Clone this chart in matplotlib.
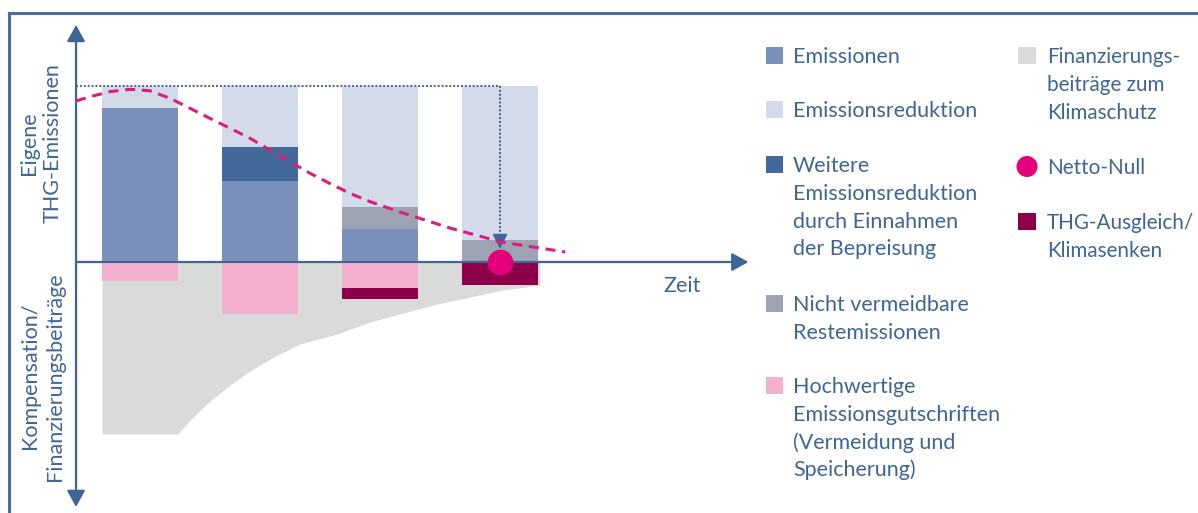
import matplotlib
matplotlib.use("Agg")
import matplotlib.pyplot as plt
from matplotlib.patches import Rectangle, Ellipse
from matplotlib.lines import Line2D

# ---------------- data ----------------
periods = [1, 2, 3, 4]
emissions = [87.5, 46, 19, 0]
further_reduction = [0, 19.5, 0, 0]
residual = [0, 0, 12, 12.5]
reduction = [12.5, 34.5, 69, 87.5]
credits = [-11, -29.5, -15, 0]
offsets = [0, 0, -6, -13]
netto_null_x = 4
netto_null_y = 0
reference_level = 100

# dashed trajectory
curve_x = [0.467, 0.583, 0.75, 0.917, 1.083, 1.25, 1.417, 1.583, 1.75, 1.917,
           2.083, 2.25, 2.417, 2.583, 2.75, 2.917, 3.167, 3.583, 4.008, 4.542]
curve_y = [91.5, 93.9, 96.8, 98.1, 97.3, 93.0, 87.3, 81.6, 76.0, 70.3,
           63.6, 57.0, 50.4, 44.6, 39.0, 34.3, 28.4, 19.3, 11.4, 5.7]

# financing contributions area (lower boundary)
fin_x = [0.683, 1.317, 1.417, 1.583, 1.75, 1.917, 2.083, 2.333, 2.642, 2.917,
         3.192, 3.475, 3.75, 4.025, 4.333]
fin_y = [-97.7, -97.7, -89.8, -79.0, -69.9, -61.9, -55.1, -46.6, -40.9, -34.1,
         -29.0, -23.9, -19.9, -15.9, -13.1]

legend_left = [
    ("Emissionen", ["Emissionen"]),
    ("Emissionsreduktion", ["Emissionsreduktion"]),
    ("Weitere", ["Weitere", "Emissionsreduktion", "durch Einnahmen", "der Bepreisung"]),
    ("Nicht", ["Nicht vermeidbare", "Restemissionen"]),
    ("Hoch", ["Hochwertige", "Emissionsgutschriften", "(Vermeidung und", "Speicherung)"]),
]
legend_right = [
    ("Fin", ["Finanzierungs-", "beiträge zum", "Klimaschutz"]),
    ("Netto", ["Netto-Null"]),
    ("THG", ["THG-Ausgleich/", "Klimasenken"]),
]
y_label_top = ["Eigene", "THG-Emissionen"]
y_label_bottom = ["Kompensation/", "Finanzierungsbeiträge"]
x_label = "Zeit"

# ---------------- style ----------------
C_EMI = "#7a8fb9"
C_RED = "#d3dae9"
C_FUR = "#43699b"
C_RES = "#9da3b2"
C_CRE = "#f3b0cf"
C_OFF = "#8b0049"
C_FIN = "#d9dada"
C_DOT = "#e4007d"
C_DASH = "#df1a80"
C_AX = "#3e6597"
C_TXT = "#3f6597"
FONT = ["Lato", "DejaVu Sans"]

W, H = 1198, 513
fig = plt.figure(figsize=(W / 100, H / 100), dpi=100)
fig.patch.set_facecolor("white")
ax = fig.add_axes([20 / W, 3 / H, 740 / W, 490 / H])
ax.set_xlim(0, 6.1667)
ax.set_ylim(-140.9, 137.5)
ax.axis("off")

def fx(px):
    return px / W

def fy(py):
    return 1 - py / H

# frame (top and left edges visible)
fig.add_artist(Line2D([fx(8.5), fx(W)], [fy(12.5), fy(12.5)], color="#4a6e9e", lw=2.2))
fig.add_artist(Line2D([fx(8.5), fx(8.5)], [fy(12.5), fy(H)], color="#4a6e9e", lw=2.2))

# financing area
ax.fill_between(fin_x + [fin_x[-1]], [0] * (len(fin_x) + 1), fin_y + [0],
                color=C_FIN, lw=0, zorder=1)

bw = 0.64
b = [0] * 4
for vals, col in [(emissions, C_EMI), (further_reduction, C_FUR), (residual, C_RES), (reduction, C_RED)]:
    ax.bar(periods, vals, bw, bottom=b, color=col, lw=0, zorder=2)
    b = [bb + v for bb, v in zip(b, vals)]
nb = [0] * 4
for vals, col in [(credits, C_CRE), (offsets, C_OFF)]:
    ax.bar(periods, vals, bw, bottom=nb, color=col, lw=0, zorder=2)
    nb = [bb + v for bb, v in zip(nb, vals)]

x0 = 0.467
# dotted reference
ax.plot([x0, netto_null_x], [reference_level, reference_level], color=C_AX, lw=1.4,
        ls=(0, (1, 1)), zorder=3)
ax.plot([netto_null_x, netto_null_x], [reference_level, 14], color=C_AX, lw=1.4,
        ls=(0, (1, 1)), zorder=3)
ax.annotate("", xy=(netto_null_x, 7.4), xytext=(netto_null_x, 15),
            arrowprops=dict(arrowstyle="-|>,head_length=1.0,head_width=0.5", color=C_AX,
                            lw=1.2, shrinkA=0, shrinkB=0, mutation_scale=9), zorder=4)

# axes arrows
ax.annotate("", xy=(6.07, 0), xytext=(x0, 0),
            arrowprops=dict(arrowstyle="-|>,head_length=1.0,head_width=0.55", color=C_AX,
                            lw=1.6, shrinkA=0, shrinkB=0, mutation_scale=10), zorder=4)
ax.annotate("", xy=(x0, 134.7), xytext=(x0, -139.2),
            arrowprops=dict(arrowstyle="<|-|>,head_length=1.0,head_width=0.55", color=C_AX,
                            lw=1.6, shrinkA=0, shrinkB=0, mutation_scale=10), zorder=4)

# dashed curve
ax.plot(curve_x, curve_y, color=C_DASH, lw=2.2, ls=(0, (3.3, 2.2)), zorder=5,
        dash_capstyle="butt", dash_joinstyle="round")

# netto null dot
ax.scatter([netto_null_x], [netto_null_y], s=340, color=C_DOT, lw=0, zorder=6)

# axis labels
fs = 15.5
fig.text(fx(29), fy(143.5), y_label_top[0], rotation=90, ha="center", va="center",
         color=C_TXT, fontsize=fs, family=FONT)
fig.text(fx(53), fy(143.5), y_label_top[1], rotation=90, ha="center", va="center",
         color=C_TXT, fontsize=fs, family=FONT)
fig.text(fx(30), fy(376), y_label_bottom[0], rotation=90, ha="center", va="center",
         color=C_TXT, fontsize=fs, family=FONT)
fig.text(fx(55), fy(377), y_label_bottom[1], rotation=90, ha="center", va="center",
         color=C_TXT, fontsize=fs, family=FONT)
fig.text(fx(663), fy(292), x_label, ha="left", va="baseline", color=C_TXT,
         fontsize=fs, family=FONT)

# legend
pitch = 27.8
left_base = [63, 117, 172, 311, 393]
left_cols = [C_EMI, C_RED, C_FUR, C_RES, C_CRE]
for (key, lines), base, col in zip(legend_left, left_base, left_cols):
    fig.add_artist(Rectangle((fx(766), fy(base + 1)), 17 / W, 17 / H,
                             transform=fig.transFigure, color=col, lw=0))
    for i, line in enumerate(lines):
        fig.text(fx(793), fy(base + i * pitch), line, ha="left", va="baseline",
                 color=C_TXT, fontsize=fs, family=FONT)

fs_r = 14.9
right_base = [63, 174, 229]
for (key, lines), base in zip(legend_right, right_base):
    if key == "Netto":
        fig.add_artist(Ellipse((fx(1027), fy(base - 7.5)), 21 / W, 21 / H,
                               transform=fig.transFigure, color=C_DOT, lw=0))
    else:
        col = C_FIN if key == "Fin" else C_OFF
        fig.add_artist(Rectangle((fx(1018), fy(base + 1)), 18 / W, 17 / H,
                                 transform=fig.transFigure, color=col, lw=0))
    for i, line in enumerate(lines):
        fig.text(fx(1047), fy(base + i * pitch), line, ha="left", va="baseline",
                 color=C_TXT, fontsize=fs_r, family=FONT)

fig.savefig("out.png", dpi=100)
